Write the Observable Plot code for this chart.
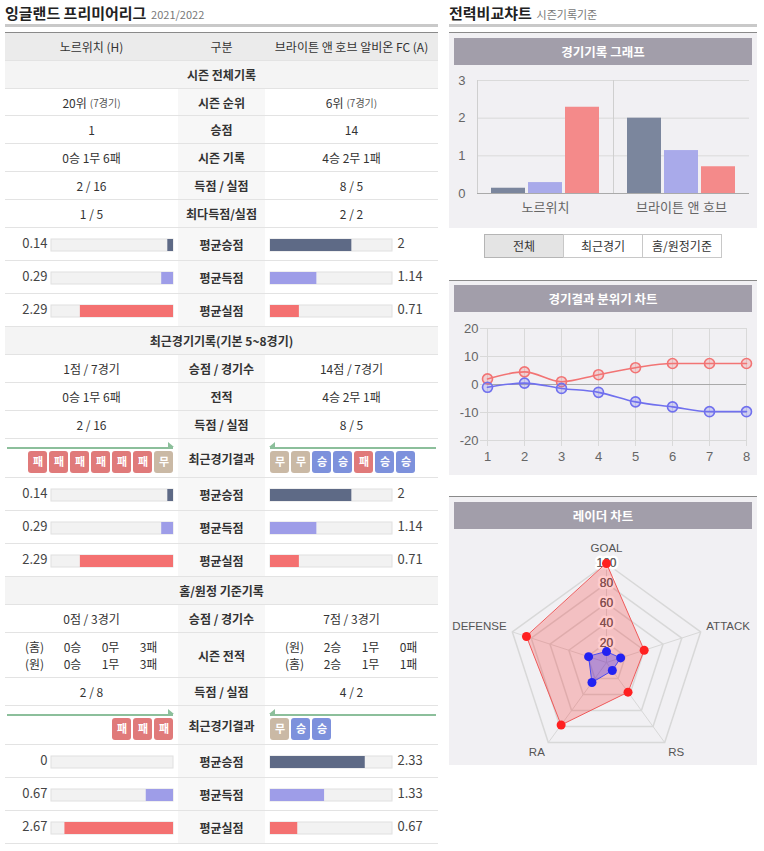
<!DOCTYPE html>
<html><head><meta charset="utf-8">
<script src="https://cdn.jsdelivr.net/npm/d3@7"></script>
<script src="https://cdn.jsdelivr.net/npm/@observablehq/plot@0.6"></script>
<style>
html,body{margin:0;padding:0;background:#fff;}
body{font-family:"Noto Sans CJK KR","Noto Sans",sans-serif;color:#333;font-size:12px;width:764px;height:851px;position:relative;overflow:hidden;}
.ttl{height:24px;line-height:25px;white-space:nowrap;}
.ttl b{font-size:15px;font-weight:700;color:#222;}
.ttl span{font-size:11px;color:#777;margin-left:2px;}
.gbar{height:3px;background:#c9c9c9;}
#left{position:absolute;left:5px;top:0;width:433px;}
#table{margin-top:5px;border-top:1px solid #8a8a8a;}
.row{display:grid;grid-template-columns:173px 87px 173px;border-bottom:1px solid #e3e3e3;box-sizing:border-box;}
.row.sec{display:flex;align-items:center;justify-content:center;background:#f4f4f4;font-weight:700;}
.row.head{background:#ebebeb;}
.c{display:flex;align-items:center;justify-content:center;position:relative;}
.c.m{background:#f7f7f7;font-weight:700;}
.row.head .c.m{background:transparent;font-weight:400;}
.small{font-size:10px;color:#555;margin-left:3px;}
.rec{display:grid;grid-template-columns:38px 38px 38px 38px;line-height:17px;text-align:center;}
.arrow{position:absolute;top:8px;height:2px;background:#8cbf9b;width:166px;}
.arrow.l{left:2px;}
.arrow.r{left:5px;}
.arrow.l::after{content:"";position:absolute;right:-1px;top:-5px;border-left:6px solid #8cbf9b;border-top:5px solid transparent;}
.arrow.r::after{content:"";position:absolute;left:-1px;top:-5px;border-right:6px solid #8cbf9b;border-top:5px solid transparent;}
.bar-host svg,.res-host svg{position:absolute;left:0;top:0;}
#right{position:absolute;left:449px;top:0;width:308px;}
.panel{background:#f1f0f3;border-top:1px solid #8a8a8a;box-sizing:border-box;}
.ph{margin:5px 5px 0 5px;height:27px;line-height:27px;background:#a29eaa;color:#fff;font-weight:700;text-align:center;font-size:12.5px;}
.btns{height:52px;position:relative;}
.btns div{position:absolute;top:6px;height:24px;box-sizing:border-box;border:1px solid #c8c8c8;background:#fff;text-align:center;line-height:22px;font-size:12px;}
.btns div.on{background:#e4e4e4;border-color:#b5b5b5;}
</style></head>
<body>
<div id="left">
  <div class="ttl"><b>잉글랜드 프리미어리그</b> <span>2021/2022</span></div>
  <div class="gbar"></div>
  <div id="table"></div>
</div>
<div id="right">
  <div class="ttl"><b>전력비교챠트</b> <span>시즌기록기준</span></div>
  <div class="gbar"></div>
  <div class="panel" style="margin-top:5px;height:196px"><div class="ph">경기기록 그래프</div><div id="barchart"></div></div>
  <div class="btns"><div class="on" style="left:35px;width:80px">전체</div><div style="left:114px;width:80px">최근경기</div><div style="left:193px;width:80px">홈/원정기준</div></div>
  <div class="panel" style="height:195px"><div class="ph" style="margin-top:4px">경기결과 분위기 차트</div><div id="linechart"></div></div>
  <div style="height:21px"></div>
  <div class="panel" style="height:269px"><div class="ph">레이더 차트</div><div id="radar"></div></div>
</div>
<script>
// ---------- data ----------
const homeTeam = "노르위치 (H)";
const awayTeam = "브라이튼 앤 호브 알비온 FC (A)";
const avgLabels = ["평균승점", "평균득점", "평균실점"];
const avgColors = ["#5e6a86", "#9e9de8", "#f47171"];
const resultKinds = ["승", "무", "패"];
const resultColors = ["#7d91dc", "#cab9a5", "#e07a7a"];

const seasonLabels = ["시즌 순위", "승점", "시즌 기록", "득점 / 실점", "최다득점/실점"];
const seasonHome = ["20위", "1", "0승 1무 6패", "2 / 16", "1 / 5"];
const seasonAway = ["6위", "14", "4승 2무 1패", "8 / 5", "2 / 2"];
const seasonGames = "(7경기)";
const seasonAvgHome = [0.14, 0.29, 2.29];
const seasonAvgAway = [2, 1.14, 0.71];

const recentLabels = ["승점 / 경기수", "전적", "득점 / 실점"];
const recentHome = ["1점 / 7경기", "0승 1무 6패", "2 / 16"];
const recentAway = ["14점 / 7경기", "4승 2무 1패", "8 / 5"];
const recentResultsHome = ["패", "패", "패", "패", "패", "패", "무"];
const recentResultsAway = ["무", "무", "승", "승", "패", "승", "승"];
const recentAvgHome = [0.14, 0.29, 2.29];
const recentAvgAway = [2, 1.14, 0.71];

const haPointsHome = "0점 / 3경기";
const haPointsAway = "7점 / 3경기";
const haRecordHome = [["(홈)", "0승", "0무", "3패"], ["(원)", "0승", "1무", "3패"]];
const haRecordAway = [["(원)", "2승", "1무", "0패"], ["(홈)", "2승", "1무", "1패"]];
const haGoalsHome = "2 / 8";
const haGoalsAway = "4 / 2";
const haResultsHome = ["패", "패", "패"];
const haResultsAway = ["무", "승", "승"];
const haAvgHome = [0, 0.67, 2.67];
const haAvgAway = [2.33, 1.33, 0.67];

// bar chart
const chartTeams = ["노르위치", "브라이튼 앤 호브"];
const chartMetrics = ["평균승점", "평균득점", "평균실점"];
const chartHome = [0.14, 0.29, 2.29];
const chartAway = [2, 1.14, 0.71];
const chartColors = ["#7b869d", "#a9aaea", "#f48a8a"];
const barTicks = [0, 1, 2, 3];

// mood line chart
const rounds = [1, 2, 3, 4, 5, 6, 7, 8];
const moodSeries = ["브라이튼", "노르위치"];
const moodRed = [2, 4.5, 1, 3.5, 6, 7.5, 7.5, 7.5];
const moodBlue = [-1, 0.5, -1.4, -2.8, -6.2, -8, -9.7, -9.7];
const moodColors = ["#f27474", "#7070ee"];
const moodTicks = [-20, -10, 0, 10, 20];

// radar
const radarAxes = ["GOAL", "ATTACK", "RS", "RA", "DEFENSE"];
const radarRed = [100, 40, 37, 78, 85];
const radarBlue = [11, 15, 10, 25, 19];
const radarTicks = [20, 40, 60, 80, 100];

// ---------- helpers ----------
const FONT = '"Noto Sans CJK KR","Noto Sans",sans-serif';
const CFONT = '"Liberation Sans",Arial,"Noto Sans CJK KR",sans-serif';
const T = document.getElementById("table");

function addRow(h, cls) {
  const r = document.createElement("div");
  r.className = "row " + (cls || "");
  r.style.height = h + "px";
  T.appendChild(r);
  return r;
}
function cells(r) {
  return ["l", "m", "r"].map(k => { const d = document.createElement("div"); d.className = "c " + k; r.appendChild(d); return d; });
}
function textRow(h, a, m, b) {
  const [l, c, r] = cells(addRow(h));
  l.innerHTML = a; c.textContent = m; r.innerHTML = b;
}
function secRow(text) { addRow(28, "sec").textContent = text; }

function avgBar(v, color, side) {
  const left = side === "l";
  return Plot.plot({
    width: 173, height: 32, marginTop: 11, marginBottom: 9,
    marginLeft: left ? 46 : 5, marginRight: left ? 5 : 46,
    style: {background: "transparent", fontFamily: FONT, color: "#444", overflow: "visible"},
    x: {domain: [0, 3], reverse: left, axis: null},
    y: {axis: null},
    marks: [
      Plot.barX([3], {x: d => d, fill: "#f2f2f2", stroke: "#e0e0e0"}),
      Plot.barX([v], {x: d => d, fill: color}),
      Plot.text([v], {frameAnchor: left ? "left" : "right", dx: left ? -4 : 5, dy: -2,
        textAnchor: left ? "end" : "start", text: d => String(d), fontSize: 13, fill: "#444"})
    ]
  });
}
function avgRows(home, away) {
  avgLabels.forEach((lab, i) => {
    const [l, c, r] = cells(addRow(33));
    l.classList.add("bar-host"); r.classList.add("bar-host");
    c.textContent = lab;
    l.appendChild(avgBar(home[i], avgColors[i], "l"));
    r.appendChild(avgBar(away[i], avgColors[i], "r"));
  });
}
function badges(results, side) {
  const n = results.length, w = 21 * n - 2;
  const range = side === "l" ? [168 - w, 168] : [5, 5 + w];
  const data = results.map((r, i) => ({i, r}));
  return Plot.plot({
    width: 173, height: 38, marginTop: 12, marginBottom: 4, marginLeft: 0, marginRight: 0,
    style: {background: "transparent", fontFamily: FONT, overflow: "visible"},
    x: {type: "band", domain: d3.range(n), range, paddingInner: 2 / 21, paddingOuter: 0, axis: null},
    color: {domain: resultKinds, range: resultColors},
    marks: [
      Plot.cell(data, {x: "i", fill: "r", rx: 3}),
      Plot.text(data, {x: "i", text: "r", fill: "white", fontSize: 11, fontWeight: "bold"})
    ]
  });
}
function resultRow(home, away) {
  const [l, c, r] = cells(addRow(39));
  c.textContent = "최근경기결과";
  [[l, home, "l"], [r, away, "r"]].forEach(([cell, res, s]) => {
    cell.classList.add("res-host");
    const a = document.createElement("div"); a.className = "arrow " + s; cell.appendChild(a);
    cell.appendChild(badges(res, s));
  });
}
function recBlock(rows) {
  return rows.map(r => `<div class="rec">${r.map(t => `<span>${t}</span>`).join("")}</div>`).join("");
}

// ---------- table ----------
{
  const [l, c, r] = cells(addRow(28, "head"));
  l.textContent = homeTeam; c.textContent = "구분"; r.textContent = awayTeam;
}
secRow("시즌 전체기록");
seasonLabels.forEach((lab, i) => {
  const h = i === 0 ? 27 : 28;
  const sfx = i === 0 ? `<span class="small">${seasonGames}</span>` : "";
  textRow(h, seasonHome[i] + sfx, lab, seasonAway[i] + sfx);
});
avgRows(seasonAvgHome, seasonAvgAway);

secRow("최근경기기록(기본 5~8경기)");
recentLabels.forEach((lab, i) => textRow(28, recentHome[i], lab, recentAway[i]));
resultRow(recentResultsHome, recentResultsAway);
avgRows(recentAvgHome, recentAvgAway);

secRow("홈/원정 기준기록");
textRow(28, haPointsHome, "승점 / 경기수", haPointsAway);
{
  const [l, c, r] = cells(addRow(45));
  l.innerHTML = `<div>${recBlock(haRecordHome)}</div>`;
  c.textContent = "시즌 전적";
  r.innerHTML = `<div>${recBlock(haRecordAway)}</div>`;
}
textRow(28, haGoalsHome, "득점 / 실점", haGoalsAway);
resultRow(haResultsHome, haResultsAway);
avgRows(haAvgHome, haAvgAway);

// ---------- bar chart ----------
const barData = [];
chartTeams.forEach((t, ti) => chartMetrics.forEach((m, mi) =>
  barData.push({team: t, metric: m, value: (ti === 0 ? chartHome : chartAway)[mi]})));
document.getElementById("barchart").appendChild(Plot.plot({
  width: 308, height: 163, marginLeft: 28, marginRight: 8, marginTop: 15, marginBottom: 35,
  style: {background: "transparent", fontFamily: CFONT, fontSize: "13px", color: "#666", overflow: "visible"},
  facet: {data: barData, x: "team"},
  fx: {domain: chartTeams, padding: 0, label: null, tickSize: 0, tickPadding: 9, axis: "bottom"},
  x: {domain: chartMetrics, axis: null, paddingInner: 0.08, paddingOuter: 0.35},
  y: {domain: [0, 3], ticks: barTicks, tickSize: 0, tickPadding: 12, label: null, tickFormat: d => String(d)},
  color: {domain: chartMetrics, range: chartColors},
  marks: [
    Plot.ruleY(barTicks, {y: d => d, stroke: "#dadada"}),
    Plot.frame({anchor: "left", stroke: "#cfcfcf"}),
    Plot.ruleY([0], {y: d => d, stroke: "#aaaaaa"}),
    Plot.barY(barData, {x: "metric", y: "value", fill: "metric"})
  ]
}));

// ---------- line chart ----------
const moodData = [];
rounds.forEach((x, i) => {
  moodData.push({s: moodSeries[0], x, y: moodRed[i]});
  moodData.push({s: moodSeries[1], x, y: moodBlue[i]});
});
document.getElementById("linechart").appendChild(Plot.plot({
  width: 308, height: 163, marginLeft: 38, marginRight: 11, marginTop: 16, marginBottom: 35,
  style: {background: "transparent", fontFamily: CFONT, fontSize: "13px", color: "#666", overflow: "visible"},
  x: {domain: [1, 8], ticks: rounds, tickSize: 0, tickPadding: 11, label: null, tickFormat: d => String(d)},
  y: {domain: [-20, 20], ticks: moodTicks, tickSize: 0, tickPadding: 9, label: null, tickFormat: d => String(d)},
  color: {domain: moodSeries, range: moodColors},
  marks: [
    Plot.ruleY(moodTicks, {y: d => d, stroke: "#d9d9d9", insetLeft: -7}),
    Plot.ruleX(rounds, {x: d => d, stroke: "#d9d9d9", insetBottom: -6}),
    Plot.ruleY([0], {y: d => d, stroke: "#a9a9a9"}),
    Plot.line(moodData, {x: "x", y: "y", z: "s", stroke: "s", strokeWidth: 1.6, curve: "monotone-x"}),
    Plot.dot(moodData, {x: "x", y: "y", stroke: "s", fill: "s", fillOpacity: 0.25, r: 5, strokeWidth: 1.6})
  ]
}));

// ---------- radar ----------
const ang = i => 2 * Math.PI * i / radarAxes.length;
const px = (v, i) => v * Math.sin(ang(i));
const py = (v, i) => v * Math.cos(ang(i));
const gridData = [];
radarTicks.forEach(lv => radarAxes.forEach((a, i) => gridData.push({lv, x: px(lv, i), y: py(lv, i)})));
const ptsRed = radarRed.map((v, i) => ({x: px(v, i), y: py(v, i)}));
const ptsBlue = radarBlue.map((v, i) => ({x: px(v, i), y: py(v, i)}));
const maxTick = radarTicks[radarTicks.length - 1];
const labelR = maxTick * 1.06;
const labelMarks = radarAxes.map((name, i) => {
  const s = Math.sin(ang(i)), c = Math.cos(ang(i));
  return Plot.text([name], {
    x: () => px(labelR, i), y: () => py(labelR, i), text: d => d,
    textAnchor: s > 0.01 ? "start" : s < -0.01 ? "end" : "middle",
    lineAnchor: c > -0.01 ? "bottom" : "top", dy: c > 0.99 ? -6 : 0,
    fill: "#555", fontSize: 11.5
  });
});
const cx = 157, cy = 133, rad = 99;
document.getElementById("radar").appendChild(Plot.plot({
  width: 308, height: 236, margin: 0,
  style: {background: "transparent", fontFamily: CFONT, fontSize: "12px", color: "#555", overflow: "visible"},
  x: {domain: [-maxTick, maxTick], range: [cx - rad, cx + rad], axis: null},
  y: {domain: [-maxTick, maxTick], range: [cy + rad, cy - rad], axis: null},
  marks: [
    Plot.line(gridData, {x: "x", y: "y", z: "lv", curve: "linear-closed", stroke: "#d8d8d8"}),
    Plot.link(radarAxes, {x1: () => 0, y1: () => 0, x2: (d, i) => px(maxTick, i), y2: (d, i) => py(maxTick, i), stroke: "#d8d8d8"}),
    Plot.text(radarTicks, {x: () => 0, y: d => d, text: d => String(d), fill: "#666", fontSize: 12, stroke: "white", strokeWidth: 5}),
    Plot.text(radarTicks, {x: () => 0, y: d => d, text: d => String(d), fill: "#666", fontSize: 12}),
    ...labelMarks,
    Plot.line(ptsRed, {x: "x", y: "y", curve: "linear-closed", fill: "rgba(255,0,0,0.2)", stroke: "#ef5a5a", strokeWidth: 1}),
    Plot.line(ptsBlue, {x: "x", y: "y", curve: "linear-closed", fill: "rgba(0,0,255,0.25)", stroke: "#4a4af0", strokeWidth: 1}),
    Plot.dot(ptsRed, {x: "x", y: "y", r: 4.5, fill: "#ff2020"}),
    Plot.dot(ptsBlue, {x: "x", y: "y", r: 4.5, fill: "#2222f2"})
  ]
}));
</script>
</body></html>
